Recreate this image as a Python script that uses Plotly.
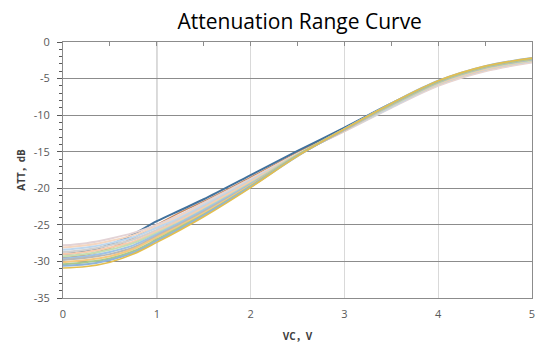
import plotly.graph_objects as go

# ---- data ----
vc = [0, 0.25, 0.5, 0.75, 1, 1.25, 1.5, 2, 2.5, 3, 3.5, 4, 4.5, 5]

att_c01 = [-30.9, -30.7, -30.1, -29.0, -27.4, -25.7, -23.9, -19.9, -15.6, -11.9, -8.4, -5.3, -3.3, -2.2]
att_c02 = [-30.6, -30.4, -29.8, -28.8, -27.2, -25.5, -23.7, -19.8, -15.6, -11.9, -8.4, -5.3, -3.3, -2.2]
att_c03 = [-30.4, -30.1, -29.6, -28.6, -27.0, -25.3, -23.6, -19.7, -15.5, -11.9, -8.5, -5.4, -3.4, -2.3]
att_c04 = [-30.1, -29.8, -29.3, -28.3, -26.7, -25.1, -23.4, -19.6, -15.5, -11.9, -8.5, -5.4, -3.4, -2.3]
att_c05 = [-29.8, -29.5, -29.0, -28.1, -26.5, -24.9, -23.2, -19.5, -15.5, -12.0, -8.6, -5.5, -3.5, -2.4]
att_c06 = [-29.6, -29.3, -28.7, -27.8, -26.3, -24.7, -23.0, -19.4, -15.5, -12.0, -8.6, -5.5, -3.5, -2.4]
att_c07 = [-29.3, -29.0, -28.4, -27.5, -26.1, -24.6, -22.9, -19.3, -15.4, -12.0, -8.7, -5.6, -3.6, -2.5]
att_c08 = [-29.0, -28.7, -28.1, -27.3, -25.9, -24.4, -22.7, -19.1, -15.4, -12.1, -8.7, -5.7, -3.7, -2.5]
att_c09 = [-28.7, -28.4, -27.8, -27.0, -25.7, -24.2, -22.5, -19.0, -15.4, -12.1, -8.8, -5.8, -3.8, -2.6]
att_c10 = [-28.4, -28.1, -27.5, -26.7, -25.4, -24.0, -22.3, -18.9, -15.4, -12.1, -8.9, -5.8, -3.8, -2.6]
att_c11 = [-28.1, -27.8, -27.2, -26.4, -25.2, -23.8, -22.2, -18.8, -15.3, -12.2, -8.9, -5.9, -3.9, -2.7]
att_c12 = [-27.8, -27.5, -26.9, -26.1, -25.0, -23.6, -22.0, -18.7, -15.3, -12.2, -9.0, -6.0, -4.0, -2.8]
att_orange = [-29.5, -29.1, -28.2, -26.8, -25.0, -23.3, -21.8, -18.5, -15.1, -11.8, -8.5, -5.4, -3.4, -2.3]
att_blue = [-29.0, -28.6, -27.7, -26.3, -24.5, -23.0, -21.5, -18.2, -14.9, -11.7, -8.4, -5.5, -3.5, -2.4]

series = [att_orange, att_blue, att_c12, att_c11, att_c10, att_c09, att_c08, att_c07,
          att_c06, att_c05, att_c04, att_c03, att_c02, att_c01]
colors = ["#C98A5E", "#41719C", "#E3D3D6", "#F4D6C0", "#BDD7EE", "#D0D0D0", "#F8CBAD",
          "#C5DDB0", "#9DC3E6", "#B8B8B8", "#F5C77E", "#A9C98B", "#8FB4D9", "#E3BE4F"]
widths = [1.5, 2, 2, 2, 2, 2, 2, 2, 2, 2, 2, 2, 2, 1.6]

y_ticks = [0, -5, -10, -15, -20, -25, -30, -35]
y_tick_text = ["0", "-5", "-10", "-15", "-20", "-25", "-30", "-35"]
x_ticks = [0, 1, 2, 3, 4, 5]
dark_grid_x = 1

fig = go.Figure()
for ys, c, w in zip(series, colors, widths):
    fig.add_trace(go.Scatter(x=vc, y=ys, mode="lines",
                             line=dict(color=c, width=w, shape="spline", smoothing=1.0),
                             showlegend=False, hoverinfo="skip"))

# helper trace so the top axis is drawn
fig.add_trace(go.Scatter(x=vc, y=series[0], mode="lines", xaxis="x2", yaxis="y",
                         line=dict(width=0), opacity=0, showlegend=False, hoverinfo="skip"))

fig.add_vline(x=dark_grid_x, line=dict(color="#8C8C8C", width=1), layer="below")

font_fam = "Open Sans, Noto Sans CJK SC, sans-serif"
fig.update_layout(
    width=547, height=352,
    margin=dict(l=63, r=12, t=42, b=54),
    paper_bgcolor="white", plot_bgcolor="white",
    title=dict(text="Attenuation Range Curve", x=0.548, xanchor="center",
               y=0.938, yanchor="middle",
               font=dict(family=font_fam, size=21, color="#000000")),
    font=dict(family=font_fam, size=11, color="#595959"),
    xaxis=dict(range=[0, 5], tickvals=x_ticks, ticks="", showgrid=True,
               gridcolor="#D9D9D9", gridwidth=1, zeroline=False,
               showline=True, linecolor="#8C8C8C", linewidth=1,
               ticklabelstandoff=6,
               tickfont=dict(size=11, color="#595959"),
               title=dict(text="<b>VC，V</b>", standoff=12,
                          font=dict(size=10, color="#404040"))),
    xaxis2=dict(range=[0, 5], overlaying="x", side="top", anchor="y",
                showticklabels=False, tickvals=x_ticks, ticks="inside", ticklen=4,
                tickcolor="#8C8C8C", showgrid=False, zeroline=False,
                showline=True, linecolor="#8C8C8C", linewidth=1,
                minor=dict(dtick=0.5, tick0=0, ticks="inside", ticklen=4,
                           tickcolor="#8C8C8C", showgrid=False)),
    yaxis=dict(range=[-35, 0], tickvals=y_ticks, ticktext=y_tick_text,
               ticks="outside", ticklen=5, ticklabelstandoff=5,
               tickcolor="#595959", showgrid=True, gridcolor="#8C8C8C",
               gridwidth=1, zeroline=False, showline=True, linecolor="#8C8C8C",
               linewidth=1, mirror=True,
               minor=dict(dtick=1, tick0=0, ticks="outside", ticklen=3,
                          tickcolor="#595959", showgrid=False),
               tickfont=dict(size=11, color="#595959"),
               title=dict(text="<b>ATT，dB</b>", standoff=6,
                          font=dict(size=10, color="#404040"))),
)

fig.write_html("out.html")
